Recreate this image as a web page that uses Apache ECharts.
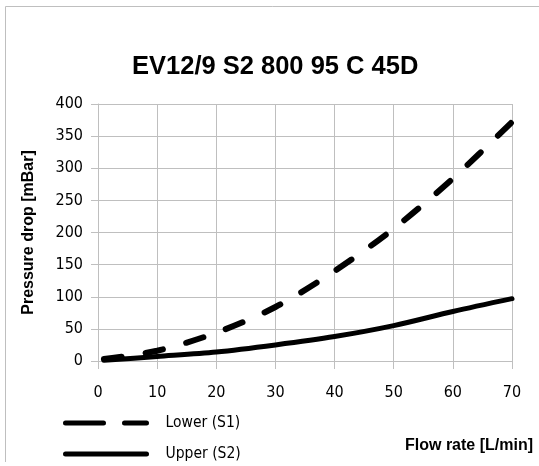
<!DOCTYPE html>
<html>
<head>
<meta charset="utf-8">
<script src="https://cdn.jsdelivr.net/npm/echarts@6/dist/echarts.min.js"></script>
<style>
  html, body { margin: 0; padding: 0; background: #fff; }
  #main { width: 539px; height: 466px; }
</style>
</head>
<body>
<div id="main"></div>
<script>
// flow rate [L/min] and pressure drop [mBar]
var flow = [1, 10, 20, 30, 40, 50, 60, 70]
var lower = [3, 16, 44, 84, 140, 206, 284, 372]
var upper = [1, 7, 14, 25, 38, 55, 77, 97]
var names = ['Lower (S1)', 'Upper (S2)']

function pairs(xs, ys) {
  return xs.map(function (x, i) { return [x, ys[i]] })
}

var chart = echarts.init(document.getElementById('main'))
var narrow = "'DejaVu Sans Condensed', 'Liberation Sans', sans-serif"
var sans = "'Liberation Sans', Arial, sans-serif"

var option = {
  animation: false,
  title: {
    text: 'EV12/9 S2 800 95 C 45D',
    left: 127,
    top: 47,
    textStyle: {
      fontFamily: sans,
      fontWeight: 'bold',
      fontSize: 25.5,
      lineHeight: 30,
      color: '#000'
    }
  },
  graphic: [{
    type: 'polyline',
    silent: true,
    shape: { points: [[5.5, 462], [5.5, 6.5], [560, 6.5]] },
    style: { stroke: '#bfbfbf', lineWidth: 1, fill: null }
  }],
  legend: {
    orient: 'vertical',
    left: 63,
    top: 415,
    height: 50,
    padding: 0,
    itemWidth: 81,
    itemHeight: 14,
    itemGap: 15,
    itemStyle: { opacity: 0 },
    textStyle: {
      fontFamily: narrow,
      fontSize: 15.5,
      lineHeight: 14,
      color: '#000',
      padding: [0, 0, 0, 14]
    },
    data: [
      { name: names[0], itemStyle: { opacity: 0 }, lineStyle: { type: [38, 21], width: 5, cap: 'round' } },
      { name: names[1], itemStyle: { opacity: 0 }, lineStyle: { width: 5, cap: 'round' } }
    ]
  },
  grid: {
    left: 98,
    right: 27,
    top: 104,
    bottom: 105
  },
  xAxis: {
    type: 'value',
    min: 0,
    max: 70,
    interval: 10,
    name: 'Flow rate [L/min]',
    nameLocation: 'end',
    nameGap: 21,
    nameTextStyle: {
      fontFamily: sans,
      fontWeight: 'bold',
      fontSize: 16,
      color: '#000',
      align: 'right',
      verticalAlign: 'top',
      padding: [77, 0, 0, 0]
    },
    axisLine: { show: true, lineStyle: { color: '#bfbfbf', width: 1 } },
    axisTick: { show: true, inside: false, length: 8, lineStyle: { color: '#bfbfbf' } },
    axisLabel: { margin: 24, fontFamily: narrow, fontSize: 16, color: '#000' },
    splitLine: { show: true, lineStyle: { color: '#bfbfbf', width: 1 } }
  },
  yAxis: {
    type: 'value',
    min: 0,
    max: 400,
    interval: 50,
    name: 'Pressure drop [mBar]',
    nameLocation: 'middle',
    nameRotate: 90,
    nameGap: 61,
    nameTextStyle: {
      fontFamily: sans,
      fontWeight: 'bold',
      fontSize: 16,
      color: '#000'
    },
    axisLine: { show: true, lineStyle: { color: '#bfbfbf', width: 1 } },
    axisTick: { show: true, inside: false, length: 7, lineStyle: { color: '#bfbfbf' } },
    axisLabel: { margin: 15, fontFamily: narrow, fontSize: 16, color: '#000' },
    splitLine: { show: true, lineStyle: { color: '#bfbfbf', width: 1 } }
  },
  series: [{
    name: names[0],
    type: 'line',
    smooth: 0.3,
    symbol: 'none',
    data: pairs(flow, lower),
    lineStyle: { color: '#000', width: 6, type: [18, 24], cap: 'round' },
    itemStyle: { color: '#000' }
  }, {
    name: names[1],
    type: 'line',
    smooth: 0.3,
    symbol: 'none',
    data: pairs(flow, upper),
    lineStyle: { color: '#000', width: 5, type: 'solid', cap: 'round' },
    itemStyle: { color: '#000' }
  }]
}

chart.setOption(option)
</script>
</body>
</html>
